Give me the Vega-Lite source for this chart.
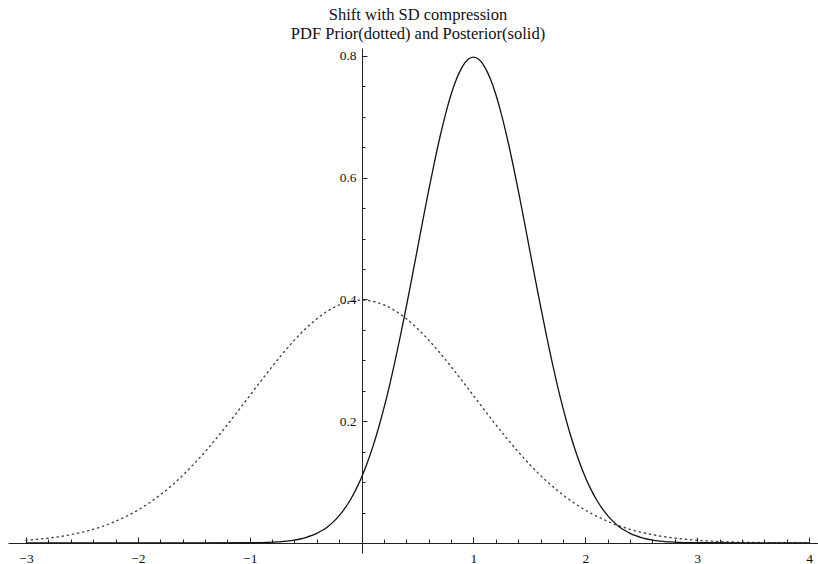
{
  "$schema": "https://vega.github.io/schema/vega-lite/v6.json",
  "width": 810,
  "height": 505,
  "autosize": {"type": "none"},
  "padding": {"left": 8, "top": 48, "right": 0, "bottom": 11},
  "background": "white",
  "config": {"view": {"stroke": null}},
  "title": {
    "text": ["Shift with SD compression", "PDF Prior(dotted) and Posterior(solid)"],
    "font": "Liberation Serif",
    "fontSize": 16.5,
    "fontWeight": "normal",
    "color": "#111",
    "lineHeight": 19,
    "offset": 6,
    "dx": 5,
    "anchor": "middle"
  },
  "datasets": {
    "prior": [
      {"x": -3.0, "y": 0.0044}, {"x": -2.9, "y": 0.0060}, {"x": -2.8, "y": 0.0079}, {"x": -2.7, "y": 0.0104},
      {"x": -2.6, "y": 0.0136}, {"x": -2.5, "y": 0.0175}, {"x": -2.4, "y": 0.0224}, {"x": -2.3, "y": 0.0283},
      {"x": -2.2, "y": 0.0355}, {"x": -2.1, "y": 0.0440}, {"x": -2.0, "y": 0.0540}, {"x": -1.9, "y": 0.0656},
      {"x": -1.8, "y": 0.0790}, {"x": -1.7, "y": 0.0940}, {"x": -1.6, "y": 0.1109}, {"x": -1.5, "y": 0.1295},
      {"x": -1.4, "y": 0.1497}, {"x": -1.3, "y": 0.1714}, {"x": -1.2, "y": 0.1942}, {"x": -1.1, "y": 0.2179},
      {"x": -1.0, "y": 0.2420}, {"x": -0.9, "y": 0.2661}, {"x": -0.8, "y": 0.2897}, {"x": -0.7, "y": 0.3123},
      {"x": -0.6, "y": 0.3332}, {"x": -0.5, "y": 0.3521}, {"x": -0.4, "y": 0.3683}, {"x": -0.3, "y": 0.3814},
      {"x": -0.2, "y": 0.3910}, {"x": -0.1, "y": 0.3970}, {"x": 0.0, "y": 0.3989}, {"x": 0.1, "y": 0.3970},
      {"x": 0.2, "y": 0.3910}, {"x": 0.3, "y": 0.3814}, {"x": 0.4, "y": 0.3683}, {"x": 0.5, "y": 0.3521},
      {"x": 0.6, "y": 0.3332}, {"x": 0.7, "y": 0.3123}, {"x": 0.8, "y": 0.2897}, {"x": 0.9, "y": 0.2661},
      {"x": 1.0, "y": 0.2420}, {"x": 1.1, "y": 0.2179}, {"x": 1.2, "y": 0.1942}, {"x": 1.3, "y": 0.1714},
      {"x": 1.4, "y": 0.1497}, {"x": 1.5, "y": 0.1295}, {"x": 1.6, "y": 0.1109}, {"x": 1.7, "y": 0.0940},
      {"x": 1.8, "y": 0.0790}, {"x": 1.9, "y": 0.0656}, {"x": 2.0, "y": 0.0540}, {"x": 2.1, "y": 0.0440},
      {"x": 2.2, "y": 0.0355}, {"x": 2.3, "y": 0.0283}, {"x": 2.4, "y": 0.0224}, {"x": 2.5, "y": 0.0175},
      {"x": 2.6, "y": 0.0136}, {"x": 2.7, "y": 0.0104}, {"x": 2.8, "y": 0.0079}, {"x": 2.9, "y": 0.0060},
      {"x": 3.0, "y": 0.0044}, {"x": 3.1, "y": 0.0033}, {"x": 3.2, "y": 0.0024}, {"x": 3.3, "y": 0.0017},
      {"x": 3.4, "y": 0.0012}, {"x": 3.5, "y": 0.0009}, {"x": 3.6, "y": 0.0006}, {"x": 3.7, "y": 0.0004},
      {"x": 3.8, "y": 0.0003}, {"x": 3.9, "y": 0.0002}, {"x": 4.0, "y": 0.0001}
    ],
    "posterior": [
      {"x": -3.0, "y": 0.0}, {"x": -1.5, "y": 0.0}, {"x": -1.0, "y": 0.0003}, {"x": -0.95, "y": 0.0004},
      {"x": -0.9, "y": 0.0006}, {"x": -0.85, "y": 0.0008}, {"x": -0.8, "y": 0.0012}, {"x": -0.75, "y": 0.0017},
      {"x": -0.7, "y": 0.0025}, {"x": -0.65, "y": 0.0034}, {"x": -0.6, "y": 0.0048}, {"x": -0.55, "y": 0.0065},
      {"x": -0.5, "y": 0.0089}, {"x": -0.45, "y": 0.0119}, {"x": -0.4, "y": 0.0158}, {"x": -0.35, "y": 0.0208},
      {"x": -0.3, "y": 0.0271}, {"x": -0.25, "y": 0.0350}, {"x": -0.2, "y": 0.0448}, {"x": -0.15, "y": 0.0567},
      {"x": -0.1, "y": 0.0710}, {"x": -0.05, "y": 0.0880}, {"x": 0.0, "y": 0.1080}, {"x": 0.05, "y": 0.1312},
      {"x": 0.1, "y": 0.1579}, {"x": 0.15, "y": 0.1880}, {"x": 0.2, "y": 0.2218}, {"x": 0.25, "y": 0.2590},
      {"x": 0.3, "y": 0.2995}, {"x": 0.35, "y": 0.3429}, {"x": 0.4, "y": 0.3884}, {"x": 0.45, "y": 0.4357},
      {"x": 0.5, "y": 0.4839}, {"x": 0.55, "y": 0.5322}, {"x": 0.6, "y": 0.5794}, {"x": 0.65, "y": 0.6245},
      {"x": 0.7, "y": 0.6664}, {"x": 0.75, "y": 0.7041}, {"x": 0.8, "y": 0.7366}, {"x": 0.85, "y": 0.7628},
      {"x": 0.9, "y": 0.7821}, {"x": 0.95, "y": 0.7940}, {"x": 1.0, "y": 0.7979}, {"x": 1.05, "y": 0.7940},
      {"x": 1.1, "y": 0.7821}, {"x": 1.15, "y": 0.7628}, {"x": 1.2, "y": 0.7366}, {"x": 1.25, "y": 0.7041},
      {"x": 1.3, "y": 0.6664}, {"x": 1.35, "y": 0.6245}, {"x": 1.4, "y": 0.5794}, {"x": 1.45, "y": 0.5322},
      {"x": 1.5, "y": 0.4839}, {"x": 1.55, "y": 0.4357}, {"x": 1.6, "y": 0.3884}, {"x": 1.65, "y": 0.3429},
      {"x": 1.7, "y": 0.2995}, {"x": 1.75, "y": 0.2590}, {"x": 1.8, "y": 0.2218}, {"x": 1.85, "y": 0.1880},
      {"x": 1.9, "y": 0.1579}, {"x": 1.95, "y": 0.1312}, {"x": 2.0, "y": 0.1080}, {"x": 2.05, "y": 0.0880},
      {"x": 2.1, "y": 0.0710}, {"x": 2.15, "y": 0.0567}, {"x": 2.2, "y": 0.0448}, {"x": 2.25, "y": 0.0350},
      {"x": 2.3, "y": 0.0271}, {"x": 2.35, "y": 0.0208}, {"x": 2.4, "y": 0.0158}, {"x": 2.45, "y": 0.0119},
      {"x": 2.5, "y": 0.0089}, {"x": 2.55, "y": 0.0065}, {"x": 2.6, "y": 0.0048}, {"x": 2.65, "y": 0.0034},
      {"x": 2.7, "y": 0.0025}, {"x": 2.75, "y": 0.0017}, {"x": 2.8, "y": 0.0012}, {"x": 2.85, "y": 0.0008},
      {"x": 2.9, "y": 0.0006}, {"x": 2.95, "y": 0.0004}, {"x": 3.0, "y": 0.0003}, {"x": 3.5, "y": 0.0},
      {"x": 4.0, "y": 0.0}
    ]
  },
  "encoding": {
    "x": {
      "field": "x",
      "type": "quantitative",
      "scale": {"domain": [-3.161, 4.08], "nice": false, "zero": false},
      "axis": {
        "title": null,
        "orient": "bottom",
        "offset": -10,
        "grid": false,
        "domainColor": "#222",
        "domainWidth": 1,
        "tickColor": "#222",
        "tickWidth": 1,
        "tickSize": {"condition": {"test": "abs(datum.value - round(datum.value)) < 0.001", "value": -6}, "value": -4},
        "values": [-3, -2.8, -2.6, -2.4, -2.2, -2, -1.8, -1.6, -1.4, -1.2, -1, -0.8, -0.6, -0.4, -0.2, 0.2, 0.4, 0.6, 0.8, 1, 1.2, 1.4, 1.6, 1.8, 2, 2.2, 2.4, 2.6, 2.8, 3, 3.2, 3.4, 3.6, 3.8, 4],
        "labelExpr": "abs(datum.value - round(datum.value)) < 0.001 ? format(datum.value, 'd') : ''",
        "labelFont": "Liberation Serif",
        "labelFontSize": 13.5,
        "labelColor": "#111",
        "labelPadding": 14,
        "labelFlush": false,
        "labelOverlap": false
      }
    },
    "y": {
      "field": "y",
      "type": "quantitative",
      "scale": {"domain": [-0.0165, 0.813], "nice": false, "zero": false},
      "axis": {
        "title": null,
        "orient": "left",
        "offset": -354,
        "grid": false,
        "domainColor": "#222",
        "domainWidth": 1,
        "tickColor": "#222",
        "tickWidth": 1,
        "tickSize": {"condition": {"test": "abs(datum.value * 5 - round(datum.value * 5)) < 0.001", "value": -5}, "value": -3},
        "values": [0.05, 0.1, 0.15, 0.2, 0.25, 0.3, 0.35, 0.4, 0.45, 0.5, 0.55, 0.6, 0.65, 0.7, 0.75, 0.8],
        "labelExpr": "abs(datum.value * 5 - round(datum.value * 5)) < 0.001 ? format(datum.value, '.1f') : ''",
        "labelFont": "Liberation Serif",
        "labelFontSize": 13.5,
        "labelColor": "#111",
        "labelPadding": 11,
        "labelOverlap": false
      }
    }
  },
  "layer": [
    {
      "data": {"name": "prior"},
      "mark": {"type": "line", "interpolate": "monotone", "color": "#444", "strokeWidth": 1.4, "strokeDash": [1.2, 4], "strokeCap": "round", "clip": true}
    },
    {
      "data": {"name": "posterior"},
      "mark": {"type": "line", "interpolate": "monotone", "color": "#111", "strokeWidth": 1.3, "clip": true}
    }
  ]
}
